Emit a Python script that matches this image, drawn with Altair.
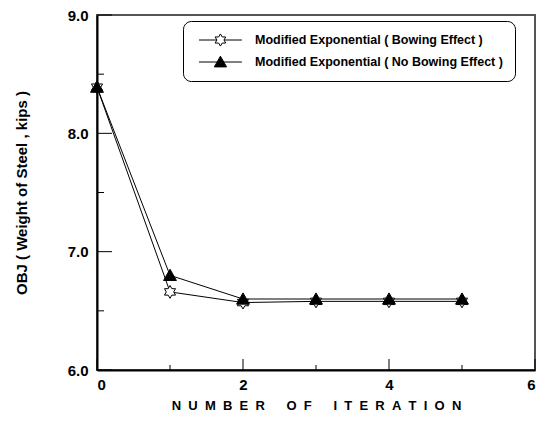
import re
import altair as alt
import pandas as pd

# ---- data ----
iterations = [0, 1, 2, 3, 4, 5]
bowing = [8.39, 6.66, 6.57, 6.58, 6.58, 6.58]
no_bowing = [8.39, 6.80, 6.60, 6.60, 6.60, 6.60]
series_names = ["Modified Exponential ( Bowing Effect )",
                "Modified Exponential ( No Bowing Effect )"]
x_major = [0, 2, 4, 6]
x_minor = [1, 3, 5]
y_major = [6.0, 7.0, 8.0, 9.0]
y_minor = [6.5, 7.5, 8.5]

FONT = "Liberation Sans"
W, H = 438, 355

rows = []
for i, x in enumerate(iterations):
    rows.append({"iteration": x, "obj": bowing[i], "series": series_names[0], "order": 0})
for i, x in enumerate(iterations):
    rows.append({"iteration": x, "obj": no_bowing[i], "series": series_names[1], "order": 1})
df = pd.DataFrame(rows)

# marker shapes (unit box -1..1)
star = ("M0,-1L0.289,-0.5L0.866,-0.5L0.577,0L0.866,0.5L0.289,0.5L0,1"
        "L-0.289,0.5L-0.866,0.5L-0.577,0L-0.866,-0.5L-0.289,-0.5Z")
tri = "M0,-0.95L1,0.8L-1,0.8Z"


def shift(path, dx):
    s = ""
    for tok in re.findall(r"[MLZ]|-?\d*\.?\d+,-?\d*\.?\d+", path):
        if "," in tok:
            a, b = tok.split(",")
            s += f"{float(a) + dx:.3f},{b}"
        else:
            s += tok
    return s


c = 3.5
star_leg = f"M0,0L{c-0.577:.3f},0M{c+0.577:.3f},0L7,0" + shift(star, c)
tri_leg = "M0,0L7,0" + shift(tri, c)

xscale = alt.Scale(domain=[0, 6], nice=False, zero=False)
yscale = alt.Scale(domain=[6, 9], nice=False, zero=False)

x_title = ("\u00a0\u00a0".join("NUMBER") + "\u00a0" * 6 + "\u00a0\u00a0".join("OF")
           + "\u00a0" * 6 + "\u00a0\u00a0".join("ITERATION"))

lines = alt.Chart(df).mark_line(color="black", strokeWidth=1).encode(
    x=alt.X("iteration:Q", scale=xscale,
            axis=alt.Axis(values=x_major, format="d", title=x_title, ticks=False,
                          grid=False, labelPadding=7, titlePadding=7,
                          titleFontSize=13)),
    y=alt.Y("obj:Q", scale=yscale,
            axis=alt.Axis(values=y_major, format=".1f",
                          title="OBJ ( Weight of Steel , kips )", ticks=False,
                          grid=False, labelPadding=9, titlePadding=38,
                          titleFontSize=15)),
    detail="series:N",
)

points = alt.Chart(df).mark_point(filled=True, stroke="black", strokeWidth=1,
                                  opacity=1, size=165).encode(
    x="iteration:Q",
    y="obj:Q",
    shape=alt.Shape("series:N", scale=alt.Scale(domain=series_names, range=[star, tri]),
                    legend=None),
    fill=alt.Fill("series:N", scale=alt.Scale(domain=series_names, range=["white", "black"]),
                  legend=None),
    order="order:Q",
)

leg = alt.Legend(title=None, orient="none", legendX=86, legendY=6,
                 direction="vertical", padding=12, rowPadding=5,
                 symbolSize=150, symbolStrokeWidth=1,
                 symbolOffset=-3, labelOffset=49, labelFont=FONT,
                 labelFontSize=12.5, labelFontWeight="bold", labelColor="black",
                 labelLimit=400,
                 strokeColor="black", cornerRadius=8, fillColor="white")

legend_layer = alt.Chart(df).transform_filter("false").mark_point(
    filled=True, strokeWidth=1, opacity=1, size=150).encode(
    x="iteration:Q",
    y="obj:Q",
    shape=alt.Shape("series:N", scale=alt.Scale(domain=series_names, range=[star_leg, tri_leg]),
                    legend=leg),
    fill=alt.Fill("series:N", scale=alt.Scale(domain=series_names, range=["white", "black"]),
                  legend=leg),
    stroke=alt.Stroke("series:N", scale=alt.Scale(domain=series_names, range=["black", "black"]),
                      legend=leg),
)

xtick_major = alt.Chart(pd.DataFrame({"iteration": x_major})).mark_rule(
    color="black", strokeWidth=1).encode(x="iteration:Q", y=alt.value(H), y2=alt.value(H - 11))
xtick_minor = alt.Chart(pd.DataFrame({"iteration": x_minor})).mark_rule(
    color="black", strokeWidth=1).encode(x="iteration:Q", y=alt.value(H), y2=alt.value(H - 5))
ytick_major = alt.Chart(pd.DataFrame({"obj": y_major})).mark_rule(
    color="black", strokeWidth=1).encode(y="obj:Q", x=alt.value(0), x2=alt.value(15))
ytick_minor = alt.Chart(pd.DataFrame({"obj": y_minor})).mark_rule(
    color="black", strokeWidth=1).encode(y="obj:Q", x=alt.value(0), x2=alt.value(7))

chart = alt.layer(
    lines, xtick_major, xtick_minor, ytick_major, ytick_minor, points, legend_layer
).resolve_scale(
    shape="independent", fill="independent", stroke="independent"
).properties(
    width=W, height=H,
    autosize=alt.AutoSizeParams(type="none"),
    padding={"left": 89, "top": 7, "right": 4, "bottom": 43},
).configure_view(
    stroke="#555", strokeWidth=2
).configure_axis(
    domainColor="black", domainWidth=2,
    labelFont=FONT, labelFontSize=15, labelFontWeight="bold", labelColor="black",
    titleFont=FONT, titleFontWeight="bold", titleColor="black",
)

chart.save("out.html", embed_options={"renderer": "svg", "actions": False})
